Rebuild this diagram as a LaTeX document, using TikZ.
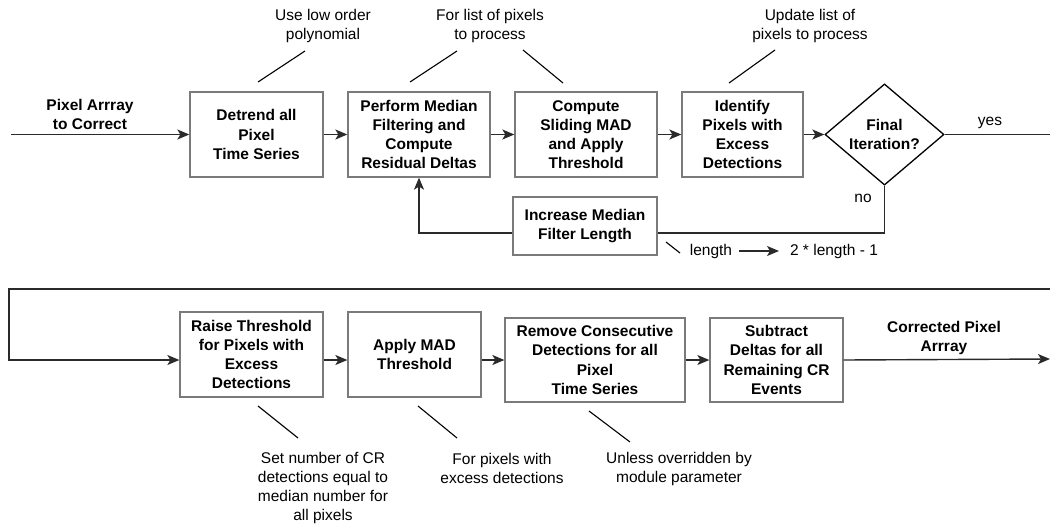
\documentclass[tikz,border=0pt]{standalone}
\usepackage{fontspec}
\setmainfont{Liberation Sans}
\usetikzlibrary{arrows.meta,shapes.geometric}
\definecolor{boxgray}{HTML}{7A7A7A}
\definecolor{linecol}{HTML}{2A2A2A}
\begin{document}
\begin{tikzpicture}[x=1pt,y=-1pt,
  procbox/.style={draw=boxgray,line width=1.3pt,rectangle,align=center,inner sep=0pt,
     font=\fontsize{15.5}{19.2}\selectfont\bfseries},
  decide/.style={draw=black,line width=1.3pt,diamond,align=center,inner sep=0pt,
     font=\fontsize{15.5}{19.2}\selectfont\bfseries},
  note/.style={align=center,inner sep=0pt,font=\fontsize{15.5}{19}\selectfont},
  blabel/.style={align=center,inner sep=0pt,font=\fontsize{15.5}{19}\selectfont\bfseries},
  conn/.style={draw=linecol,line width=1.4pt},
  arr/.style={conn,-{Stealth[length=12pt,width=10pt,inset=3pt]}},
  leader/.style={draw=black,line width=1.1pt}]
\useasboundingbox (0,0) rectangle (1050,525);

% top row
\node[procbox,minimum width=133pt,minimum height=85pt] (detrend) at (256.5,134.5) {Detrend all\\Pixel\\Time Series};
\node[procbox,minimum width=142pt,minimum height=85pt] (perform) at (419,134.5) {Perform Median\\Filtering and\\Compute\\Residual Deltas};
\node[procbox,minimum width=142pt,minimum height=85pt] (compute) at (586,134.5) {Compute\\Sliding MAD\\and Apply\\Threshold};
\node[procbox,minimum width=121pt,minimum height=85pt] (identify) at (742.5,134.5) {Identify\\Pixels with\\Excess\\Detections};
\node[decide,minimum width=119pt,minimum height=85pt] (final) at (884.5,134.5) {Final\\Iteration?};
\node[procbox,minimum width=144pt,minimum height=58pt] (increase) at (585,226) {Increase Median\\Filter Length};

\node[blabel] (inlabel) at (90,114) {Pixel Arrray\\to Correct};
\coordinate (instart) at (11,134.5);
\coordinate (yesend) at (1050,134.5);
\coordinate (noturn) at (884.5,233);
\coordinate (backturn) at (419,233);

\draw[arr] (instart) -- (detrend.west);
\draw[arr] (detrend) -- (perform);
\draw[arr] (perform) -- (compute);
\draw[arr] (compute) -- (identify);
\draw[arr] (identify) -- (final.west);
\draw[conn] (final.east) -- (yesend);
\node[note] (yes) at (990,123) {yes};
\draw[conn] (final.south) -- (noturn) -- (increase.east |- noturn);
\node[note] (no) at (863,198) {no};
\draw[arr] (increase.west |- backturn) -- (backturn) -- (perform.south);

% length annotation
\coordinate (lenA) at (666,242);
\coordinate (lenB) at (680,253);
\draw[leader] (lenA) -- (lenB);
\node[note] (lenword) at (711,251) {length};
\node[note] (lenexpr) at (834,251) {2 * length - 1};
\draw[arr,line width=1.1pt] (lenword.east) ++(7,0) coordinate (lenarrA) -- (lenexpr.west -| 779,0);

% top annotations
\node[note] (ann1) at (323,25.5) {Use low order\\polynomial};
\node[note] (ann2) at (490,25.5) {For list of pixels\\to process};
\node[note] (ann3) at (810,25.5) {Update list of\\pixels to process};
\coordinate (l1a) at (258,82); \coordinate (l1b) at (305,51);
\coordinate (l2a) at (410,82); \coordinate (l2b) at (457,51);
\coordinate (l3a) at (563,83); \coordinate (l3b) at (523,50);
\coordinate (l4a) at (729,83); \coordinate (l4b) at (775,50);
\draw[leader] (l1a) -- (l1b);
\draw[leader] (l2a) -- (l2b);
\draw[leader] (l3a) -- (l3b);
\draw[leader] (l4a) -- (l4b);

% bottom row
\node[procbox,minimum width=143pt,minimum height=85pt] (raise) at (251.5,354.5) {Raise Threshold\\for Pixels with\\Excess\\Detections};
\node[procbox,minimum width=133pt,minimum height=85pt] (apply) at (414.5,354.5) {Apply MAD\\Threshold};
\node[procbox,minimum width=180pt,minimum height=84pt] (remove) at (595,360) {Remove Consecutive\\Detections for all\\Pixel\\Time Series};
\node[procbox,minimum width=133pt,minimum height=84pt] (subtract) at (776.5,360) {Subtract\\Deltas for all\\Remaining CR\\Events};

\coordinate (wrapR) at (1050,289);
\coordinate (wrapL) at (9,289);
\coordinate (outend) at (1050,359);
\draw[arr] (wrapR) -- (wrapL) -- (wrapL |- remove.west) -- (raise.west |- remove.west);
\draw[arr] (raise.east |- remove.west) -- (apply.west |- remove.west);
\draw[arr] (apply.east |- remove.west) -- (remove.west);
\draw[arr] (remove) -- (subtract);
\draw[arr] (subtract.east) -- (outend);
\node[blabel] (outlabel) at (944,337.5) {Corrected Pixel\\Arrray};

% bottom annotations
\node[note] (ann4) at (323,487.5) {Set number of CR\\detections equal to\\median number for\\all pixels};
\node[note] (ann5) at (502,468.5) {For pixels with\\excess detections};
\node[note] (ann6) at (679,468.5) {Unless overridden by\\module parameter};
\coordinate (l5a) at (258,406); \coordinate (l5b) at (298,438);
\coordinate (l6a) at (418,406); \coordinate (l6b) at (457,438);
\coordinate (l7a) at (589,411); \coordinate (l7b) at (630,442);
\draw[leader] (l5a) -- (l5b);
\draw[leader] (l6a) -- (l6b);
\draw[leader] (l7a) -- (l7b);
\end{tikzpicture}
\end{document}
